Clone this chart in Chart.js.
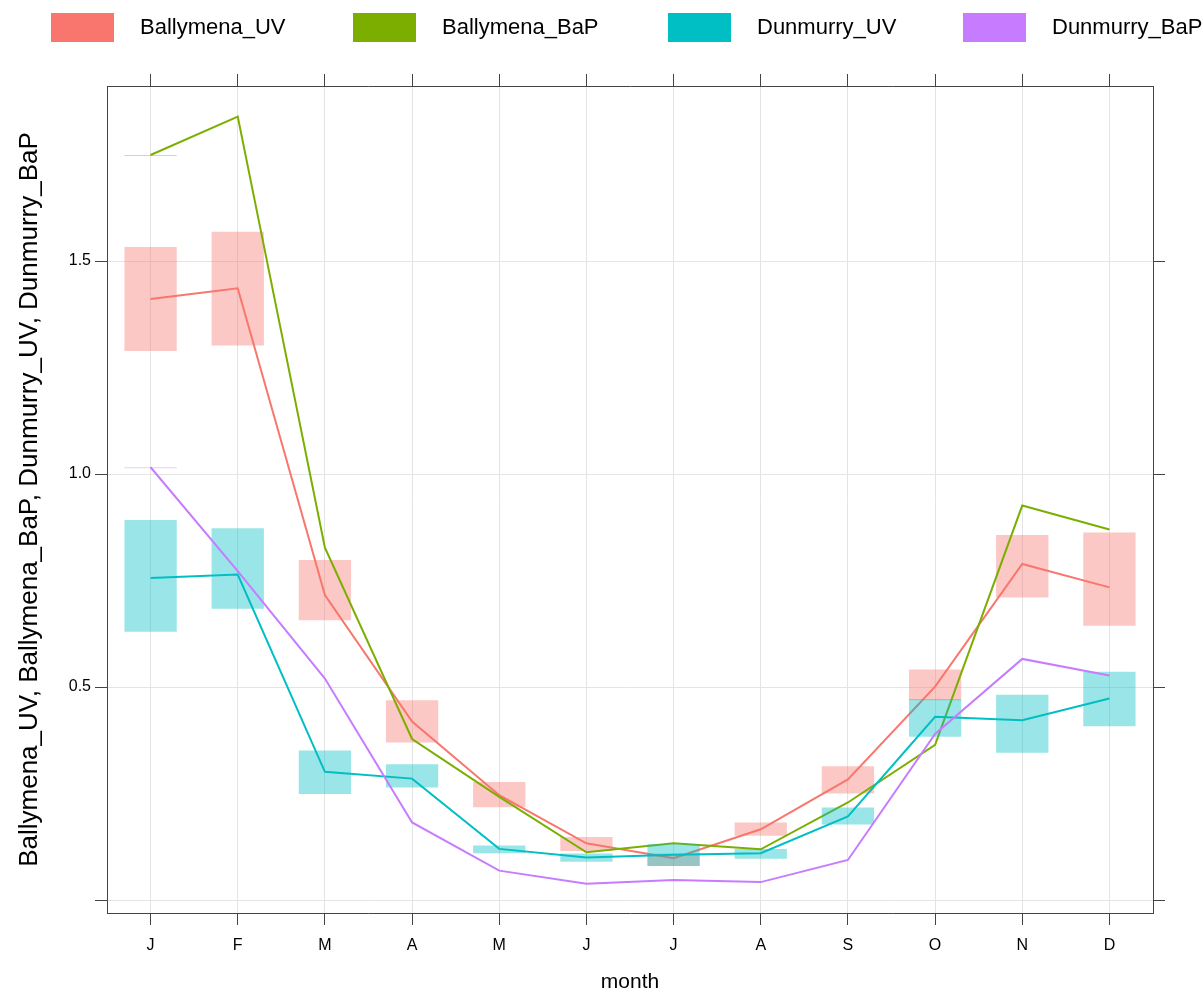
<!DOCTYPE html>
<html>
<head>
<meta charset="utf-8">
<script src="https://cdn.jsdelivr.net/npm/chart.js@4.4.0/dist/chart.umd.min.js"></script>
<style>
  html, body { margin: 0; padding: 0; background: #fff; }
  #wrap { width: 1204px; height: 993px; }
</style>
</head>
<body>
<div id="wrap"><canvas id="chart" width="1204" height="993"></canvas></div>
<script>
// Monthly means with confidence intervals
const months = ['J', 'F', 'M', 'A', 'M', 'J', 'J', 'A', 'S', 'O', 'N', 'D'];
const yTicks = [0, 0.5, 1.0, 1.5];
const seriesNames = ['Ballymena_UV', 'Ballymena_BaP', 'Dunmurry_UV', 'Dunmurry_BaP'];

const ballymenaUV     = [1.411, 1.436, 0.716, 0.419, 0.246, 0.133, 0.098, 0.166, 0.283, 0.501, 0.789, 0.734];
const ballymenaUVLow  = [1.289, 1.302, 0.657, 0.370, 0.218, 0.115, 0.080, 0.151, 0.250, 0.469, 0.710, 0.644];
const ballymenaUVHigh = [1.533, 1.569, 0.798, 0.469, 0.277, 0.148, 0.109, 0.182, 0.314, 0.541, 0.857, 0.863];

const ballymenaBaP     = [1.749, 1.839, 0.827, 0.378, 0.242, 0.112, 0.133, 0.119, 0.229, 0.364, 0.926, 0.870];
const ballymenaBaPLow  = [1.749, null, null, null, null, null, null, null, null, null, null, null];
const ballymenaBaPHigh = [1.749, null, null, null, null, null, null, null, null, null, null, null];

const dunmurryUV     = [0.756, 0.764, 0.301, 0.285, 0.120, 0.100, 0.106, 0.110, 0.196, 0.430, 0.422, 0.473];
const dunmurryUVLow  = [0.630, 0.684, 0.249, 0.264, 0.110, 0.090, 0.080, 0.097, 0.177, 0.383, 0.346, 0.408];
const dunmurryUVHigh = [0.892, 0.873, 0.351, 0.319, 0.128, 0.109, 0.131, 0.120, 0.217, 0.472, 0.482, 0.536];

const dunmurryBaP     = [1.016, 0.772, 0.520, 0.182, 0.069, 0.038, 0.047, 0.042, 0.094, 0.390, 0.566, 0.527];
const dunmurryBaPLow  = [1.016, null, null, null, null, null, null, null, null, null, null, null];
const dunmurryBaPHigh = [1.016, null, null, null, null, null, null, null, null, null, null, null];

const COLORS = ['#F8766D', '#7CAE00', '#00BFC4', '#C77CFF'];
const FONT = '"Liberation Sans", Arial, sans-serif';
const Y_MIN = -0.0305;
const Y_MAX = 1.911;

function fade(hex, a) {
  const n = parseInt(hex.slice(1), 16);
  return `rgba(${(n >> 16) & 255}, ${(n >> 8) & 255}, ${n & 255}, ${a})`;
}

function toRange(low, high) {
  return low.map((l, i) => (l === null ? null : [l, high[i]]));
}

const means = [ballymenaUV, ballymenaBaP, dunmurryUV, dunmurryBaP];
const lows = [ballymenaUVLow, ballymenaBaPLow, dunmurryUVLow, dunmurryBaPLow];
const highs = [ballymenaUVHigh, ballymenaBaPHigh, dunmurryUVHigh, dunmurryBaPHigh];

// box then line for each series, earlier series drawn underneath
const datasets = [];
seriesNames.forEach((name, i) => {
  datasets.push({
    type: 'bar',
    label: name + ' CI',
    data: toRange(lows[i], highs[i]),
    backgroundColor: fade(COLORS[i], 0.4),
    borderWidth: 0,
    grouped: false,
    barPercentage: 0.6,
    categoryPercentage: 1,
    minBarLength: 1,
    order: 8 - i * 2
  });
  datasets.push({
    type: 'line',
    label: name,
    data: means[i],
    borderColor: COLORS[i],
    borderWidth: 2,
    pointRadius: 0,
    tension: 0,
    fill: false,
    order: 7 - i * 2
  });
});

const setYTicks = (scale) => {
  scale.ticks = yTicks.map(v => ({ value: v }));
};

// Legend drawn across the top
const topLegend = {
  id: 'topLegend',
  afterDraw: (chart) => {
    const ctx = chart.ctx;
    const boxX = [51, 353, 668, 963];
    ctx.save();
    ctx.font = '22px ' + FONT;
    ctx.textBaseline = 'middle';
    ctx.textAlign = 'left';
    seriesNames.forEach((name, i) => {
      ctx.fillStyle = COLORS[i];
      ctx.fillRect(boxX[i], 13, 63, 29);
      ctx.fillStyle = '#000';
      ctx.fillText(name, boxX[i] + 89, 28);
    });
    ctx.restore();
  }
};

const gridColor = '#e4e4e4';
const axisColor = '#444';

new Chart(document.getElementById('chart').getContext('2d'), {
  type: 'line',
  data: { labels: months, datasets: datasets },
  options: {
    responsive: false,
    animation: false,
    devicePixelRatio: 1,
    layout: { padding: 0 },
    plugins: {
      legend: { display: false },
      title: { display: false },
      tooltip: { enabled: false }
    },
    scales: {
      x: {
        type: 'category',
        position: 'bottom',
        offset: true,
        grid: { offset: false, color: gridColor, lineWidth: 1, tickLength: 12, tickColor: axisColor, tickWidth: 1 },
        border: { display: true, color: axisColor, width: 1 },
        ticks: { color: '#000', font: { family: FONT, size: 16 }, padding: 11, autoSkip: false, maxRotation: 0 },
        title: { display: true, text: 'month', color: '#000', font: { family: FONT, size: 21 }, padding: { top: 0, bottom: -2 } },
        afterFit: (s) => { s.height = 80; }
      },
      xTop: {
        type: 'category',
        position: 'top',
        offset: true,
        grid: { offset: false, drawOnChartArea: false, tickLength: 12, tickColor: axisColor, tickWidth: 1 },
        border: { display: true, color: axisColor, width: 1 },
        ticks: { display: false },
        afterFit: (s) => { s.height = 86; }
      },
      y: {
        position: 'left',
        min: Y_MIN,
        max: Y_MAX,
        afterBuildTicks: setYTicks,
        grid: { color: gridColor, lineWidth: 1, tickLength: 12, tickColor: axisColor, tickWidth: 1 },
        border: { display: true, color: axisColor, width: 1 },
        ticks: {
          color: '#000',
          font: { family: FONT, size: 16 },
          padding: 4,
          callback: (v) => (v === 0 ? '' : v.toFixed(1))
        },
        title: {
          display: true,
          text: seriesNames.join(', '),
          color: '#000',
          font: { family: FONT, size: 26 },
          padding: { top: 14, bottom: 0 }
        },
        afterFit: (s) => { s.width = 107; }
      },
      yRight: {
        position: 'right',
        min: Y_MIN,
        max: Y_MAX,
        afterBuildTicks: setYTicks,
        grid: { drawOnChartArea: false, tickLength: 12, tickColor: axisColor, tickWidth: 1 },
        border: { display: true, color: axisColor, width: 1 },
        ticks: { display: false },
        afterFit: (s) => { s.width = 51; }
      }
    }
  },
  plugins: [topLegend]
});
</script>
</body>
</html>
